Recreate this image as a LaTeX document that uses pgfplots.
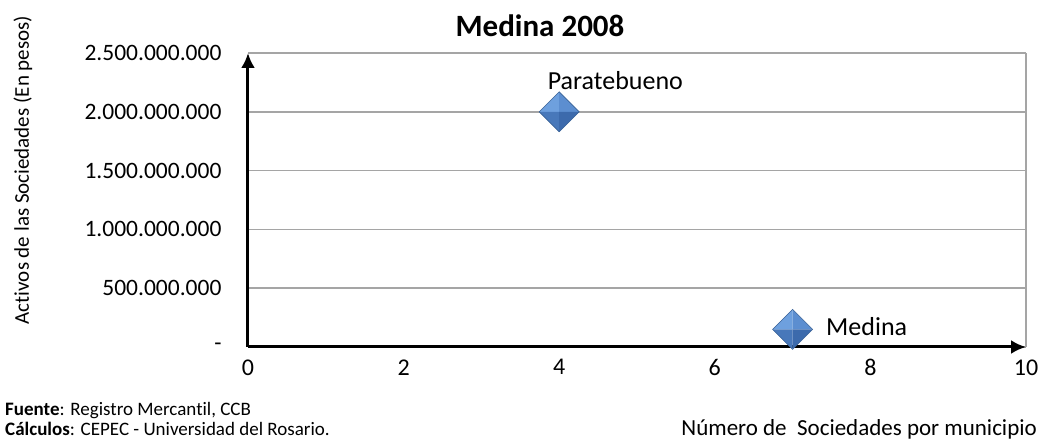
\documentclass[border=0pt]{standalone}
\usepackage{fontspec}
\setmainfont{Carlito}[Ligatures=NoCommon]
\usepackage{pgfplots}
\pgfplotsset{compat=1.18}
\usetikzlibrary{arrows.meta}
\definecolor{gemA}{RGB}{110,160,222}
\definecolor{gemB}{RGB}{92,142,208}
\definecolor{gemC}{RGB}{72,120,186}
\definecolor{gemD}{RGB}{60,106,172}
\definecolor{mkd}{RGB}{56,97,150}
\definecolor{gr}{RGB}{165,165,165}
\newcommand{\fs}[1]{\fontsize{#1}{1.2\dimexpr#1pt\relax}\selectfont}
% diamond with four shaded facets
\pgfdeclareplotmark{gem}{%
  \pgfsetfillcolor{gemA}%
  \pgfpathmoveto{\pgfpointorigin}\pgfpathlineto{\pgfqpoint{-\pgfplotmarksize}{0pt}}%
  \pgfpathlineto{\pgfqpoint{0pt}{\pgfplotmarksize}}\pgfpathclose\pgfusepathqfill
  \pgfsetfillcolor{gemB}%
  \pgfpathmoveto{\pgfpointorigin}\pgfpathlineto{\pgfqpoint{0pt}{\pgfplotmarksize}}%
  \pgfpathlineto{\pgfqpoint{\pgfplotmarksize}{0pt}}\pgfpathclose\pgfusepathqfill
  \pgfsetfillcolor{gemC}%
  \pgfpathmoveto{\pgfpointorigin}\pgfpathlineto{\pgfqpoint{-\pgfplotmarksize}{0pt}}%
  \pgfpathlineto{\pgfqpoint{0pt}{-\pgfplotmarksize}}\pgfpathclose\pgfusepathqfill
  \pgfsetfillcolor{gemD}%
  \pgfpathmoveto{\pgfpointorigin}\pgfpathlineto{\pgfqpoint{0pt}{-\pgfplotmarksize}}%
  \pgfpathlineto{\pgfqpoint{\pgfplotmarksize}{0pt}}\pgfpathclose\pgfusepathqfill
  \pgfsetstrokecolor{mkd}\pgfsetlinewidth{0.6pt}%
  \pgfpathmoveto{\pgfqpoint{0pt}{\pgfplotmarksize}}\pgfpathlineto{\pgfqpoint{\pgfplotmarksize}{0pt}}%
  \pgfpathlineto{\pgfqpoint{0pt}{-\pgfplotmarksize}}\pgfpathlineto{\pgfqpoint{-\pgfplotmarksize}{0pt}}%
  \pgfpathclose\pgfusepathqstroke
}
\begin{document}
\begin{tikzpicture}[x=1pt,y=1pt]
\useasboundingbox (0,0) rectangle (1042,442);
\begin{axis}[
  at={(248pt,95pt)}, anchor=south west,
  scale only axis, width=778pt, height=294pt,
  xmin=0, xmax=10, ymin=0, ymax=2500000000,
  axis lines=left,
  axis line style={line width=3pt, -{Latex[length=15pt,width=14pt]}},
  major tick length=0pt,
  xtick={0,2,4,6,8,10}, xticklabels={0,2,4,6,8,10},
  ytick={0,500000000,1000000000,1500000000,2000000000,2500000000},
  yticklabels={-,500.000.000,1.000.000.000,1.500.000.000,2.000.000.000,2.500.000.000},
  scaled y ticks=false,
  /pgf/number format/assume math mode=true,
  xticklabel style={font=\fs{24}, yshift=-9pt},
  yticklabel style={font=\fs{23.5}, xshift=-23pt},
  ymajorgrids, grid style={gr, line width=1.5pt},
  clip=false,
]
\draw[gr, line width=1.5pt] (rel axis cs:1,0) -- (rel axis cs:1,1);
\addplot[only marks, mark=gem, mark size=20pt,
  nodes near coords={Paratebueno},
  nodes near coords style={anchor=base west, xshift=-15pt, yshift=22pt, font=\fs{26}, text=black}]
  coordinates {(4,2000000000)};
\addplot[only marks, mark=gem, mark size=20pt,
  nodes near coords={Medina},
  nodes near coords style={anchor=west, xshift=30pt, yshift=3pt, font=\fs{26}, text=black}]
  coordinates {(7,150000000)};
\end{axis}
\node[font=\fs{31}\bfseries] at (540,416) {Medina 2008};
\node[font=\fs{21}, rotate=90] at (23,272) {Activos de las Sociedades (En pesos)};
\node[font=\fs{23}, anchor=base east, inner sep=0pt] at (1037,6) {Número de~ Sociedades por municipio};
\node[font=\fs{19}, anchor=base west, inner sep=0pt] at (5,27) {\textbf{Fuente}: Registro Mercantil, CCB};
\node[font=\fs{19}, anchor=base west, inner sep=0pt] at (5,6) {\textbf{Cálculos}: CEPEC - Universidad del Rosario.};
\end{tikzpicture}
\end{document}
